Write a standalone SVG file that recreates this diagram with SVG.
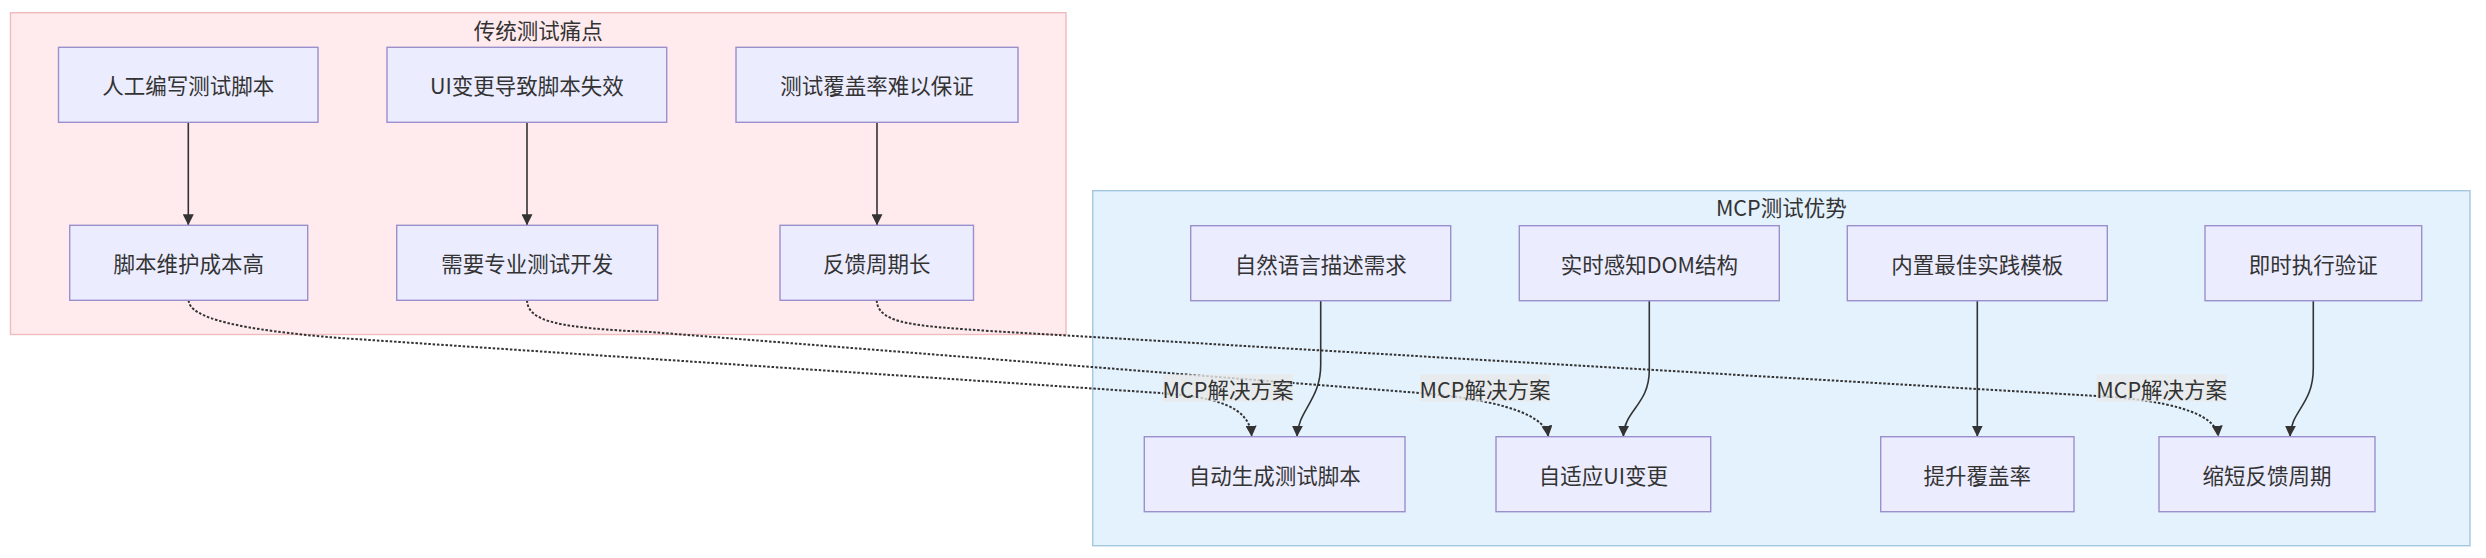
<svg xmlns="http://www.w3.org/2000/svg" width="2486" height="558" viewBox="0 0 2486 558">
<defs>
<style>
.cluster-pink { fill:#FFEBEE; stroke:#eebcbc; stroke-width:1.4 }
.cluster-blue { fill:#E3F2FD; stroke:#a3c8e0; stroke-width:1.4 }
.ctitle { font-family:"Noto Sans CJK SC","Noto Sans",sans-serif; font-size:21.5px; fill:#333; text-anchor:middle; dominant-baseline:central }
.node rect { fill:#ECECFF; stroke:#9b8fcc; stroke-width:1.4 }
.node text { font-family:"Noto Sans CJK SC","Noto Sans",sans-serif; font-size:21.5px; fill:#333; text-anchor:middle; dominant-baseline:central }
.solid { fill:none; stroke:#333; stroke-width:1.6 }
.dotted { fill:none; stroke:#333; stroke-width:2; stroke-dasharray:2.5 1.8 }
.elabel rect { fill:#e8e8e8; fill-opacity:0.8 }
.elabel text { font-family:"Noto Sans CJK SC","Noto Sans",sans-serif; font-size:21.5px; fill:#333; text-anchor:middle; dominant-baseline:central }
</style>
<marker id="arrow" viewBox="0 0 10 10" refX="10" refY="5" markerUnits="userSpaceOnUse" markerWidth="11" markerHeight="11" orient="auto">
<path d="M0,0 L10,5 L0,10 z" fill="#333"/>
</marker>
</defs>
<rect x="0" y="0" width="2486" height="558" fill="#ffffff"/>

<g id="cluster-traditional">
<rect class="cluster-pink" x="10.5" y="12.7" width="1055.5" height="321.8"/>
<text class="ctitle" x="538.3" y="29">传统测试痛点</text>
</g>
<g id="cluster-mcp">
<rect class="cluster-blue" x="1092.7" y="190.7" width="1377.3" height="355"/>
<text class="ctitle" x="1781.3" y="206.7">MCP测试优势</text>
</g>

<g id="connectors">
<path class="solid" d="M188.3,122.3 L188.3,225.3" marker-end="url(#arrow)"/>
<path class="solid" d="M527,122.3 L527,225.3" marker-end="url(#arrow)"/>
<path class="solid" d="M877,122.3 L877,225.3" marker-end="url(#arrow)"/>

<path class="dotted" d="M188.7,300.3 C189,318 240,330 340,338 L1160,393 C1215,397 1250,406 1251.7,436.7" marker-end="url(#arrow)"/>
<path class="dotted" d="M527,300.3 C528,322 560,328 650,332 L1420,393 C1480,398 1545,410 1548.3,436.7" marker-end="url(#arrow)"/>
<path class="dotted" d="M876.7,300.3 C878,325 920,326 990,331 L2097,396 C2165,400 2216,412 2218.3,436.7" marker-end="url(#arrow)"/>

<path class="solid" d="M1320.7,300.7 L1320.7,365 C1320.7,400 1298,410 1297,436.7" marker-end="url(#arrow)"/>
<path class="solid" d="M1649.3,300.7 L1649.3,370 C1649.3,405 1624,410 1623.3,436.7" marker-end="url(#arrow)"/>
<path class="solid" d="M1977.3,300.7 L1977.3,436.7" marker-end="url(#arrow)"/>
<path class="solid" d="M2313.3,300.7 L2313.3,368 C2313.3,405 2291,410 2290,436.7" marker-end="url(#arrow)"/>

<g class="elabel"><rect x="1163" y="374.5" width="130" height="27"/><text x="1228" y="388">MCP解决方案</text></g>
<g class="elabel"><rect x="1420" y="374.5" width="130" height="27"/><text x="1485" y="388">MCP解决方案</text></g>
<g class="elabel"><rect x="2096.7" y="374.5" width="130" height="27"/><text x="2161.7" y="388">MCP解决方案</text></g>
</g>

<g id="T1" class="node"><rect x="58.5" y="47.3" width="259.5" height="75"/><text x="188.3" y="84.8">人工编写测试脚本</text></g>
<g id="T2" class="node"><rect x="387" y="47.3" width="279.7" height="75"/><text x="526.8" y="84.8">UI变更导致脚本失效</text></g>
<g id="T3" class="node"><rect x="736" y="47.3" width="282" height="75"/><text x="877" y="84.8">测试覆盖率难以保证</text></g>
<g id="C1" class="node"><rect x="69.7" y="225.3" width="238" height="75"/><text x="188.7" y="262.8">脚本维护成本高</text></g>
<g id="C2" class="node"><rect x="396.7" y="225.3" width="261" height="75"/><text x="527.2" y="262.8">需要专业测试开发</text></g>
<g id="C3" class="node"><rect x="780" y="225.3" width="193.5" height="75"/><text x="876.7" y="262.8">反馈周期长</text></g>

<g id="A1" class="node"><rect x="1190.7" y="225.7" width="260" height="75"/><text x="1320.7" y="263.2">自然语言描述需求</text></g>
<g id="A2" class="node"><rect x="1519.3" y="225.7" width="260" height="75"/><text x="1649.3" y="263.2">实时感知DOM结构</text></g>
<g id="A3" class="node"><rect x="1847.3" y="225.7" width="260" height="75"/><text x="1977.3" y="263.2">内置最佳实践模板</text></g>
<g id="A4" class="node"><rect x="2205" y="225.7" width="216.7" height="75"/><text x="2313.3" y="263.2">即时执行验证</text></g>
<g id="B1" class="node"><rect x="1144.3" y="436.7" width="260.7" height="75"/><text x="1274.7" y="474.2">自动生成测试脚本</text></g>
<g id="B2" class="node"><rect x="1496" y="436.7" width="214.7" height="75"/><text x="1603.3" y="474.2">自适应UI变更</text></g>
<g id="B3" class="node"><rect x="1880.7" y="436.7" width="193.3" height="75"/><text x="1977.3" y="474.2">提升覆盖率</text></g>
<g id="B4" class="node"><rect x="2159" y="436.7" width="216" height="75"/><text x="2267" y="474.2">缩短反馈周期</text></g>
</svg>
